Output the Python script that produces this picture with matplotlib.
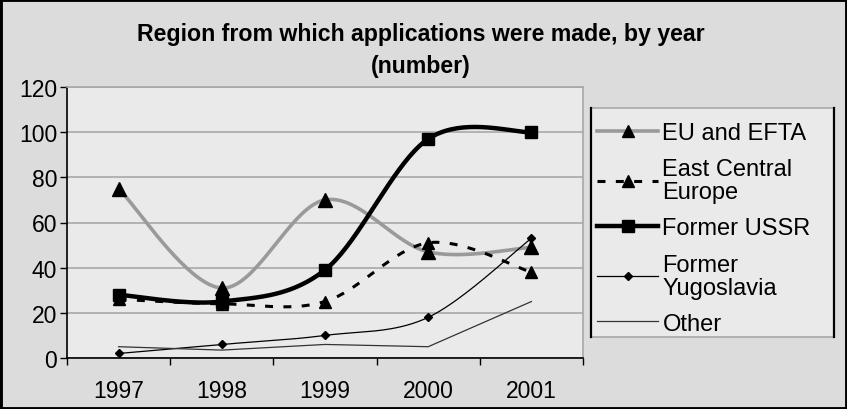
import numpy as np
import matplotlib
matplotlib.use("Agg")
import matplotlib.pyplot as plt
from matplotlib.lines import Line2D
from matplotlib.patches import Rectangle

plt.rcParams['font.family'] = ['Liberation Sans', 'DejaVu Sans']

years = ['1997', '1998', '1999', '2000', '2001']
eu_efta = [75, 31, 70, 47, 49]
east_central = [26, 24, 25, 51, 38]
former_ussr = [28, 25, 39, 97, 100]
former_yugoslavia = [2, 6, 10, 18, 53]
other = [5, 3.5, 6, 5, 25]


def smooth(y, n=40):
    # Excel-style smoothed line: cubic Bezier through each point pair
    y = np.asarray(y, float)
    x = np.arange(len(y), dtype=float)
    px = np.concatenate([[x[0]], x, [x[-1]]])
    py = np.concatenate([[y[0]], y, [y[-1]]])
    xs, ys = [], []
    t = np.linspace(0, 1, n)
    for i in range(len(y) - 1):
        p0 = np.array([px[i + 1], py[i + 1]])
        p3 = np.array([px[i + 2], py[i + 2]])
        p1 = p0 + (p3 - np.array([px[i], py[i]])) / 6
        p2 = p3 - (np.array([px[i + 3], py[i + 3]]) - p0) / 6
        b = ((1 - t) ** 3)[:, None] * p0 + (3 * (1 - t) ** 2 * t)[:, None] * p1 \
            + (3 * (1 - t) * t ** 2)[:, None] * p2 + (t ** 3)[:, None] * p3
        xs.append(b[:, 0])
        ys.append(b[:, 1])
    return np.concatenate(xs), np.concatenate(ys)


W, H = 847, 410
fig = plt.figure(figsize=(W / 100, H / 100), dpi=100, facecolor='#dcdcdc')
ax = fig.add_axes([67 / W, 1 - 359 / H, 516 / W, 271 / H])
ax.set_facecolor('#eaeaea')

x = np.arange(len(years))

# EU and EFTA
sx, sy = smooth(eu_efta)
ax.plot(sx, sy, color='#9a9a9a', lw=2.6, zorder=3)
ax.plot(x, eu_efta, ls='none', marker='^', ms=10, color='black', zorder=5)

# East Central Europe
sx, sy = smooth(east_central)
ax.plot(sx, sy, color='black', lw=2.2, ls=(0, (2.6, 3.4)), zorder=3)
ax.plot(x, east_central, ls='none', marker='^', ms=8, color='black', zorder=5)

# Former USSR
sx, sy = smooth(former_ussr)
ax.plot(sx, sy, color='black', lw=3.2, zorder=4)
ax.plot(x, former_ussr, ls='none', marker='s', ms=8, color='black', zorder=5)

# Former Yugoslavia
sx, sy = smooth(former_yugoslavia)
ax.plot(sx, sy, color='black', lw=0.9, zorder=3)
ax.plot(x, former_yugoslavia, ls='none', marker='D', ms=4.5, color='black', zorder=5)

# Other
ax.plot(x, other, color='#333333', lw=0.9, zorder=3)

ax.set_xlim(-0.5, 4.5)
ax.set_ylim(0, 120)
ax.set_yticks(range(0, 121, 20))
ax.yaxis.grid(True, color='#a8a8a8', lw=1.2)
ax.set_axisbelow(True)
ax.set_xticks(np.arange(-0.5, 5, 1))
ax.set_xticklabels([])
ax.set_xticks(x, minor=True)
ax.set_xticklabels(years, minor=True)
ax.tick_params(axis='x', which='major', length=5, width=1, direction='out')
ax.tick_params(axis='x', which='minor', length=0, pad=15, labelsize=16.5)
ax.tick_params(axis='y', length=5, width=1, direction='out', pad=2, labelsize=16.5)
for s in ['left', 'bottom']:
    ax.spines[s].set_color('black')
    ax.spines[s].set_linewidth(1.2)
for s in ['top', 'right']:
    ax.spines[s].set_color('#a8a8a8')
    ax.spines[s].set_linewidth(1.2)

fig.text(0.497, 1 - 35 / H, 'Region from which applications were made, by year',
         ha='center', va='center', fontsize=16.7, fontweight='bold')
fig.text(0.497, 1 - 67 / H, '(number)',
         ha='center', va='center', fontsize=16.7, fontweight='bold')

# legend box: grey top/bottom, black sides
lx0, lx1, ly0, ly1 = 591, 834, 109, 338
fig.patches.append(Rectangle((lx0 / W, 1 - ly1 / H), (lx1 - lx0) / W, (ly1 - ly0) / H,
                             transform=fig.transFigure, facecolor='#eaeaea',
                             edgecolor='#a8a8a8', lw=1.2, zorder=1))
for xe in (lx0, lx1):
    fig.add_artist(Line2D([xe / W, xe / W], [1 - ly1 / H, 1 - ly0 / H],
                          transform=fig.transFigure, color='black', lw=1.6))

handles = [
    Line2D([], [], color='#9a9a9a', lw=2.6, marker='^', ms=9, mfc='black', mec='black'),
    Line2D([], [], color='black', lw=2.2, ls=(0, (2.6, 3.4)), marker='^', ms=8),
    Line2D([], [], color='black', lw=3.2, marker='s', ms=8),
    Line2D([], [], color='black', lw=0.9, marker='D', ms=4.5),
    Line2D([], [], color='#333333', lw=0.9),
]
labels = ['EU and EFTA', 'East Central\nEurope', 'Former USSR', 'Former\nYugoslavia', 'Other']
leg = fig.legend(handles, labels, loc='upper left', bbox_to_anchor=(597 / W, 1 - 123 / H),
                 fontsize=17, handlelength=2.6, handletextpad=0.17, labelspacing=0.6,
                 borderpad=0, borderaxespad=0, frameon=False)
for t in leg.get_texts():
    t.set_linespacing(1.06)

fig.patches.append(Rectangle((0, 0), 1, 1, transform=fig.transFigure, fill=False,
                             edgecolor='black', lw=3.5))

fig.savefig('out.png', dpi=100, facecolor=fig.get_facecolor())
